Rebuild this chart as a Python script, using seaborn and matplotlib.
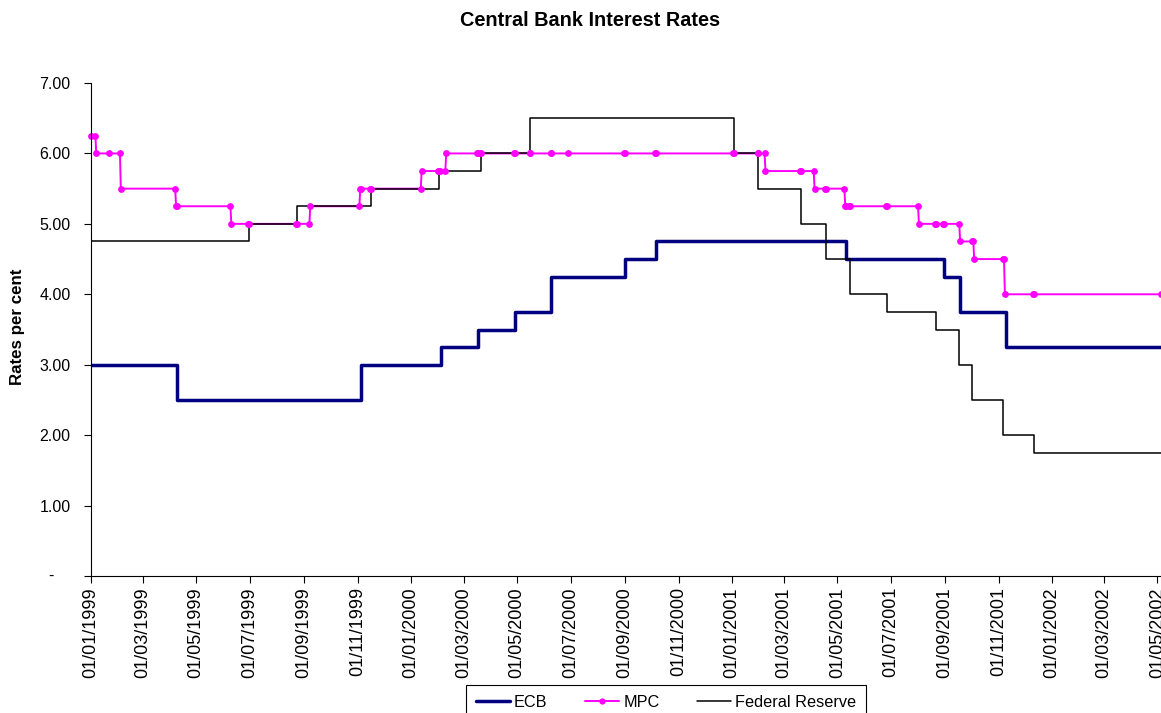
import matplotlib
matplotlib.use("Agg")
import matplotlib.pyplot as plt
import matplotlib.dates as mdates
from matplotlib.lines import Line2D
import pandas as pd
import seaborn as sns

# ECB main refinancing rate: change dates and new levels (last row extends the line)
ecb_dates = ["1999-01-01", "1999-04-09", "1999-11-05", "2000-02-04", "2000-03-17",
             "2000-04-28", "2000-06-09", "2000-09-01", "2000-10-06", "2001-05-11",
             "2001-08-31", "2001-09-18", "2001-11-09", "2002-05-05"]
ecb_rates = [3.00, 2.50, 3.00, 3.25, 3.50, 3.75, 4.25, 4.50, 4.75, 4.50,
             4.25, 3.75, 3.25, 3.25]

# Federal Reserve funds target: change dates and new levels
fed_dates = ["1999-01-01", "1999-06-30", "1999-08-24", "1999-11-16", "2000-02-02",
             "2000-03-21", "2000-05-16", "2001-01-03", "2001-01-31", "2001-03-20",
             "2001-04-18", "2001-05-15", "2001-06-27", "2001-08-21", "2001-09-17",
             "2001-10-02", "2001-11-06", "2001-12-11", "2002-05-05"]
fed_rates = [4.75, 5.00, 5.25, 5.50, 5.75, 6.00, 6.50, 6.00, 5.50, 5.00,
             4.50, 4.00, 3.75, 3.50, 3.00, 2.50, 2.00, 1.75, 1.75]

# Bank of England MPC repo rate, one observation per table row
mpc_dates = ["1999-01-01", "1999-01-06", "1999-01-07", "1999-01-21", "1999-02-03",
             "1999-02-04", "1999-04-07", "1999-04-08", "1999-04-09", "1999-06-09",
             "1999-06-10", "1999-06-29", "1999-06-30", "1999-08-23", "1999-08-24",
             "1999-09-07", "1999-09-08", "1999-11-03", "1999-11-04", "1999-11-05",
             "1999-11-15", "1999-11-16", "2000-01-12", "2000-01-13", "2000-02-01",
             "2000-02-02", "2000-02-03", "2000-02-09", "2000-02-10", "2000-03-16",
             "2000-03-17", "2000-03-20", "2000-03-21", "2000-04-27", "2000-04-28",
             "2000-05-15", "2000-05-16", "2000-06-08", "2000-06-09", "2000-06-28",
             "2000-08-31", "2000-09-01", "2000-10-05", "2000-10-06", "2001-01-02",
             "2001-01-03", "2001-01-30", "2001-01-31", "2001-02-07", "2001-02-08",
             "2001-03-19", "2001-03-20", "2001-04-04", "2001-04-05", "2001-04-17",
             "2001-04-18", "2001-05-09", "2001-05-10", "2001-05-11", "2001-05-14",
             "2001-05-15", "2001-06-26", "2001-06-27", "2001-08-01", "2001-08-02",
             "2001-08-20", "2001-08-21", "2001-08-30", "2001-08-31", "2001-09-17",
             "2001-09-18", "2001-10-02", "2001-10-03", "2001-10-04", "2001-11-06",
             "2001-11-07", "2001-11-08", "2001-12-10", "2001-12-11", "2002-05-05"]
mpc_rates = [6.25, 6.25, 6.00, 6.00, 6.00,
             5.50, 5.50, 5.25, 5.25, 5.25,
             5.00, 5.00, 5.00, 5.00, 5.00,
             5.00, 5.25, 5.25, 5.50, 5.50,
             5.50, 5.50, 5.50, 5.75, 5.75,
             5.75, 5.75, 5.75, 6.00, 6.00,
             6.00, 6.00, 6.00, 6.00, 6.00,
             6.00, 6.00, 6.00, 6.00, 6.00,
             6.00, 6.00, 6.00, 6.00, 6.00,
             6.00, 6.00, 6.00, 6.00, 5.75,
             5.75, 5.75, 5.75, 5.50, 5.50,
             5.50, 5.50, 5.25, 5.25, 5.25,
             5.25, 5.25, 5.25, 5.25, 5.00,
             5.00, 5.00, 5.00, 5.00, 5.00,
             4.75, 4.75, 4.75, 4.50, 4.50,
             4.50, 4.00, 4.00, 4.00, 4.00]

series_labels = ["ECB", "MPC", "Federal Reserve"]
y_ticks = [0, 1, 2, 3, 4, 5, 6, 7]
x_start, x_end = "1999-01-01", "2002-05-05"

ecb = pd.DataFrame({"date": pd.to_datetime(ecb_dates), "rate": ecb_rates})
fed = pd.DataFrame({"date": pd.to_datetime(fed_dates), "rate": fed_rates})
mpc = pd.DataFrame({"date": pd.to_datetime(mpc_dates), "rate": mpc_rates})

sns.set_style("white")
plt.rcParams["font.family"] = ["Liberation Sans", "DejaVu Sans"]
plt.rcParams.update({"text.color": "black", "axes.labelcolor": "black",
                     "xtick.color": "black", "ytick.color": "black",
                     "axes.edgecolor": "black"})

W, H = 1161, 713
fig = plt.figure(figsize=(W / 100, H / 100), dpi=100)
ax = fig.add_axes([91 / W, 1 - 576 / H, 1 - 91 / W, (576 - 83) / H])

ECB_COLOR, MPC_COLOR, FED_COLOR = "#000080", "#FF00FF", "#000000"

sns.lineplot(data=ecb, x="date", y="rate", ax=ax, color=ECB_COLOR, lw=2.5,
             drawstyle="steps-post", estimator=None, sort=False, zorder=2)
sns.lineplot(data=mpc, x="date", y="rate", ax=ax, color=MPC_COLOR, lw=1.4,
             estimator=None, sort=False, zorder=2.1)
sns.lineplot(data=fed, x="date", y="rate", ax=ax, color=FED_COLOR, lw=1.1,
             drawstyle="steps-post", estimator=None, sort=False, zorder=2.2)
sns.scatterplot(data=mpc, x="date", y="rate", ax=ax, color=MPC_COLOR, s=24,
                linewidth=0, zorder=2.3, clip_on=False)

ax.set_xlim(pd.Timestamp(x_start), pd.Timestamp(x_end))
ax.set_ylim(y_ticks[0], y_ticks[-1])

ax.xaxis.set_major_locator(mdates.MonthLocator(bymonth=[1, 3, 5, 7, 9, 11], bymonthday=1))
ax.xaxis.set_major_formatter(mdates.DateFormatter("%d/%m/%Y"))
ax.set_yticks(y_ticks)
ax.set_yticklabels(["" if v == 0 else f"{v:.2f}" for v in y_ticks])
# accounting-style dash for the zero line
ax.annotate("-", xy=(0, 0), xycoords=("axes fraction", "data"), xytext=(-37, 0),
            textcoords="offset pixels", ha="right", va="center", fontsize=11.5,
            color="black")

ax.tick_params(axis="x", labelrotation=90, labelsize=13, length=5, width=0.8,
               direction="out", pad=3, bottom=True, color="black", labelcolor="black")
ax.tick_params(axis="y", labelsize=11.5, length=5, width=0.8, direction="out",
               pad=9.6, left=True, color="black", labelcolor="black")

for side in ["top", "right"]:
    ax.spines[side].set_visible(False)
for side in ["left", "bottom"]:
    ax.spines[side].set_color("black")
    ax.spines[side].set_linewidth(0.8)

ax.set_xlabel("")
ax.set_ylabel("")
ax.grid(False)

fig.text(590 / W, 1 - 20 / H, "Central Bank Interest Rates", ha="center", va="center",
         fontsize=14.3, fontweight="bold", color="black")
fig.text(18 / W, 1 - 327 / H, "Rates per cent", rotation=90, ha="center", va="center",
         fontsize=12.2, fontweight="bold", color="black")

handles = [
    Line2D([], [], color=ECB_COLOR, lw=2.5),
    Line2D([], [], color=MPC_COLOR, lw=1.4, marker="o", markersize=4.5, markeredgewidth=0),
    Line2D([], [], color=FED_COLOR, lw=1.1),
]
leg = fig.legend(handles, series_labels, loc="upper center",
                 bbox_to_anchor=(666 / W, 1 - 685 / H), ncol=3, frameon=True,
                 fancybox=False, edgecolor="black", framealpha=1, fontsize=11.7,
                 handlelength=2.1, handletextpad=0.25, columnspacing=2.3,
                 borderpad=0.6, borderaxespad=0)
leg.get_frame().set_linewidth(0.8)
for t in leg.get_texts():
    t.set_color("black")

fig.savefig("out.png", dpi=100)
